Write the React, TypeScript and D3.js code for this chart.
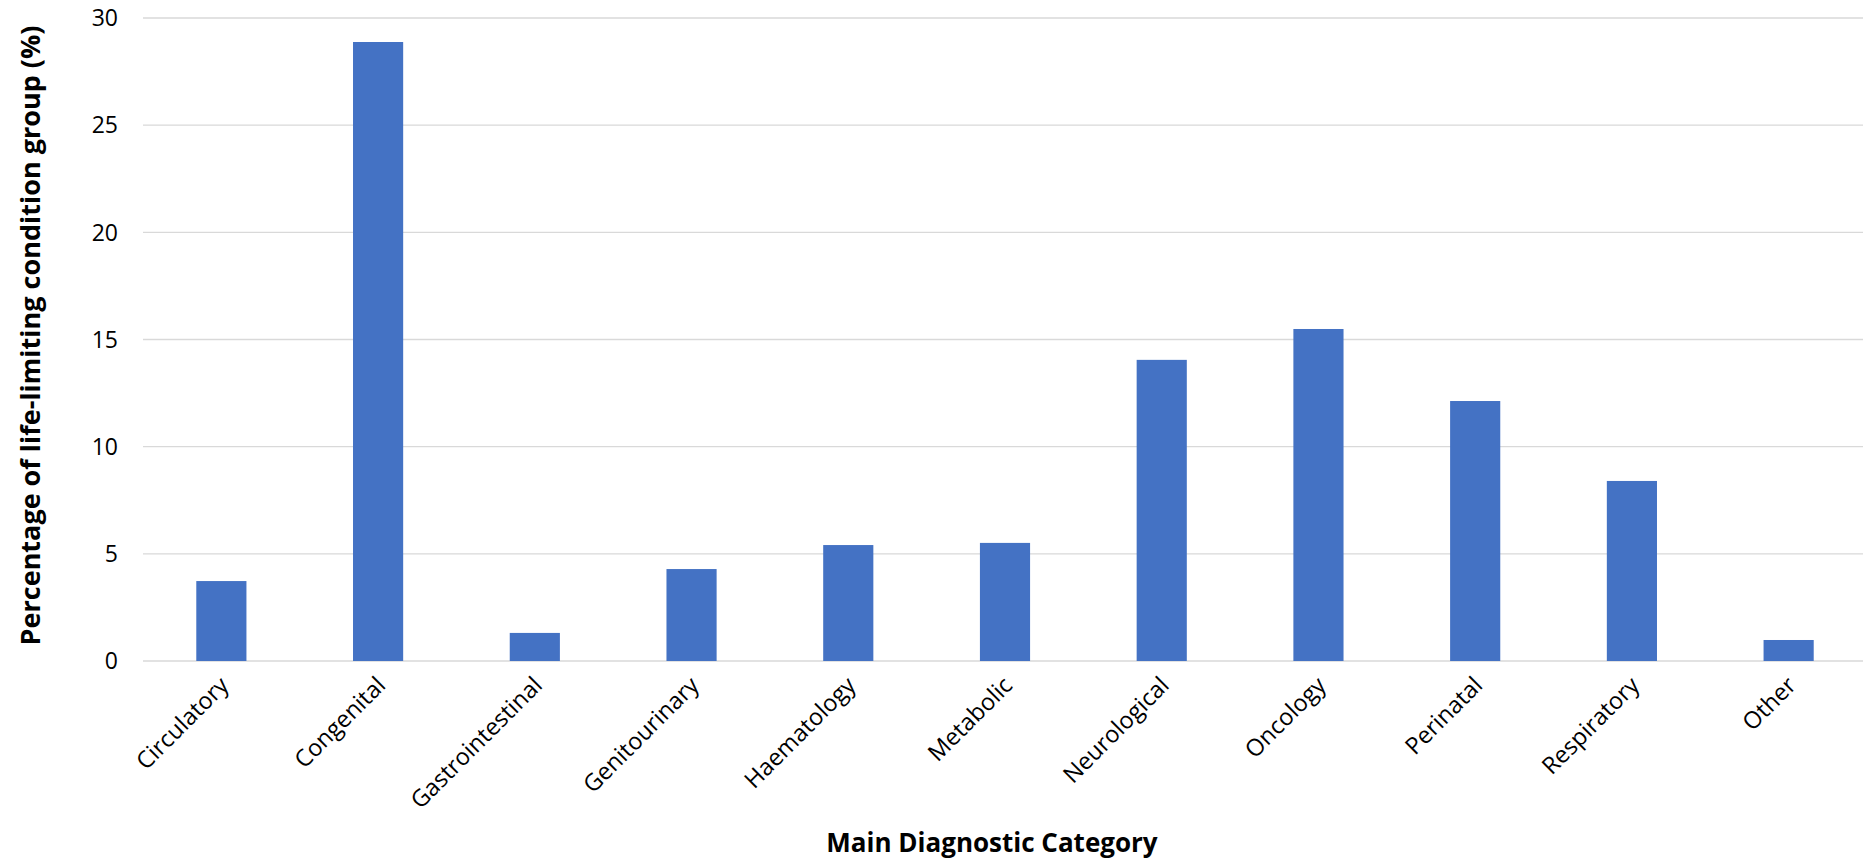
import React from "react";
import * as d3 from "d3";

const categories = [
  "Circulatory",
  "Congenital",
  "Gastrointestinal",
  "Genitourinary",
  "Haematology",
  "Metabolic",
  "Neurological",
  "Oncology",
  "Perinatal",
  "Respiratory",
  "Other",
];
const percentages = [3.73, 28.88, 1.31, 4.29, 5.41, 5.51, 14.05, 15.49, 12.13, 8.4, 0.98];
const yTicks = [0, 5, 10, 15, 20, 25, 30];

const W = 1863;
const H = 861;
const margin = { top: 18, right: -4, bottom: 200, left: 143 };
const FONT = "'Open Sans', 'DejaVu Sans', sans-serif";

export default function App() {
  const x = d3
    .scaleBand<string>()
    .domain(categories)
    .range([margin.left, W - margin.right])
    .paddingInner(0.68)
    .paddingOuter(0.34);
  const y = d3.scaleLinear().domain([0, 30]).range([H - margin.bottom, margin.top]);
  const [x0, x1] = x.range();
  const plotMid = (y(0) + y(30)) / 2;

  return (
    <svg
      width={W}
      height={H}
      style={{ position: "absolute", left: 0, top: 0, background: "#fff" }}
      fontFamily={FONT}
    >
      <g>
        {yTicks.map((t) => (
          <g key={t}>
            <line x1={x0} x2={x1} y1={y(t)} y2={y(t)} stroke="#d9d9d9" strokeWidth={1.3} />
            <text x={118} y={y(t)} dy="0.36em" textAnchor="end" fontSize={23} fill="#000">
              {t}
            </text>
          </g>
        ))}
      </g>
      <g>
        {categories.map((c, i) => (
          <rect
            key={c}
            x={x(c)}
            y={y(percentages[i])}
            width={x.bandwidth()}
            height={y(0) - y(percentages[i])}
            fill="#4472c4"
          />
        ))}
      </g>
      <g>
        {categories.map((c) => {
          const cx = (x(c) as number) + x.bandwidth() / 2;
          return (
            <text
              key={c}
              transform={`translate(${cx + 3},${y(0) + 20}) rotate(-45)`}
              textAnchor="end"
              dy="0.35em"
              fontSize={23.5}
              fill="#000"
            >
              {c}
            </text>
          );
        })}
      </g>
      <text
        transform={`translate(31,${plotMid - 4}) rotate(-90)`}
        textAnchor="middle"
        dy="0.35em"
        fontSize={27}
        fontWeight="bold"
        fill="#000"
      >
        Percentage of life-limiting condition group (%)
      </text>
      <text x={992} y={843} dy="0.35em" textAnchor="middle" fontSize={26} fontWeight="bold" fill="#000">
        Main Diagnostic Category
      </text>
    </svg>
  );
}
